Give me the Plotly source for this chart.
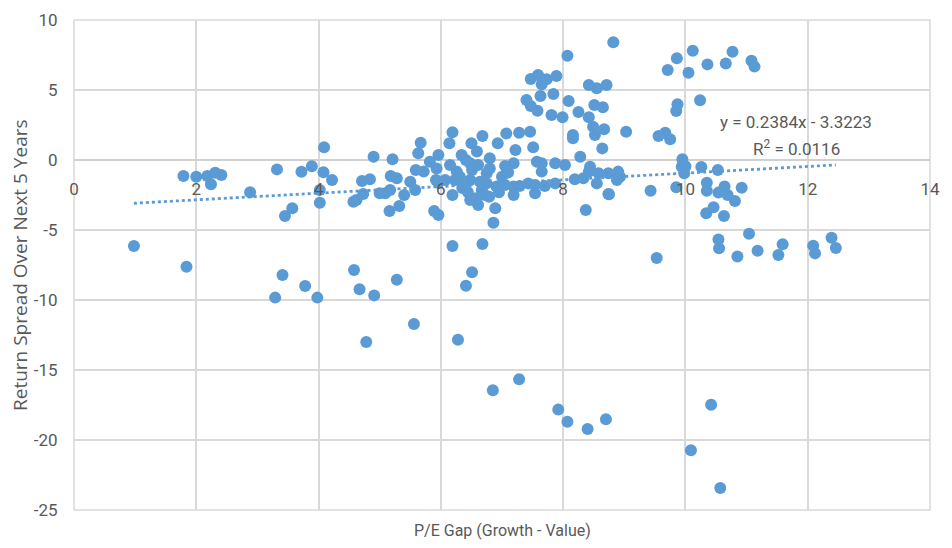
import plotly.graph_objects as go

# P/E gap (growth - value) and return spread over next 5 years
pe_gap = [
    0.98, 1.79, 1.84, 2.00, 2.18, 2.24, 2.31, 2.41, 2.88, 3.32,
    3.45, 3.57, 3.72, 3.89, 4.08, 4.09, 4.22, 4.02, 4.02, 3.41,
    3.78, 3.29, 3.98, 4.58, 4.67, 4.91, 4.78, 5.28, 5.56, 6.19,
    6.68, 6.51, 6.41, 6.28, 6.85, 7.28, 7.92, 8.07, 8.40, 8.70,
    9.53, 10.09, 10.42, 10.57,
    10.54, 10.55, 11.04, 10.85, 11.18, 11.52, 11.59, 12.09, 12.12, 12.39, 12.46,
    8.82, 9.71, 9.86, 10.12, 10.05, 10.36, 10.66, 10.77, 11.08, 11.13,
    10.24, 9.87, 9.85, 9.56, 9.67, 9.75, 9.03, 8.65, 8.71, 8.67, 8.64,
    9.95, 9.94, 9.98, 10.26, 10.53, 9.85, 9.43, 8.75, 10.35, 10.35,
    10.64, 10.54, 10.69, 10.92, 10.81, 10.34, 10.46, 10.63, 8.90, 8.88,
    8.93, 10.00,
    8.07, 7.47, 7.59, 7.73, 7.89, 7.65, 7.63, 7.84, 7.40, 7.47,
    7.58, 7.81, 7.99, 8.09, 8.25, 8.42, 8.55, 8.51, 8.42, 8.49,
    8.52, 8.16, 8.16, 8.28, 8.03, 7.87, 7.65, 7.57, 7.65, 7.51,
    7.46, 7.28, 7.07, 6.68, 6.93, 7.22, 7.19, 7.05, 6.80, 6.80,
    8.44, 8.58, 8.74, 8.33, 8.55, 8.19, 7.87, 7.70, 7.54, 7.43,
    7.29, 7.19, 7.05, 6.91, 6.75, 7.19, 7.54, 6.79, 8.74, 8.37,
    6.89, 6.86, 8.42,
    4.90, 5.21, 4.71, 4.84, 4.57, 4.62, 4.73, 5.00, 5.09, 5.17,
    5.18, 5.28, 5.16, 5.32, 5.40, 5.50, 5.59, 5.63, 5.67, 5.58,
    5.72, 5.82, 5.96, 5.93, 5.92, 5.96, 5.89, 5.96, 6.14, 6.19,
    6.15, 6.07, 6.19, 6.34, 6.50, 6.59, 6.48, 6.61, 6.31, 6.48,
    6.64, 6.26, 6.40, 6.48, 6.61, 6.57, 6.67, 6.75,
    6.35, 6.51, 6.41, 6.23, 6.72, 6.44, 7.00, 7.10, 6.95,
]
return_spread = [
    -6.14, -1.14, -7.62, -1.19, -1.14, -1.74, -0.91, -1.07, -2.31, -0.67,
    -4.00, -3.45, -0.84, -0.45, -0.88, 0.91, -1.43, -2.14, -3.05, -8.21,
    -9.00, -9.83, -9.83, -7.86, -9.24, -9.67, -13.00, -8.55, -11.71, -6.14,
    -6.00, -8.02, -8.98, -12.84, -16.45, -15.66, -17.83, -18.69, -19.21, -18.52,
    -7.00, -20.74, -17.48, -23.43,
    -5.67, -6.31, -5.26, -6.90, -6.48, -6.79, -6.02, -6.12, -6.67, -5.55, -6.29,
    8.41, 6.43, 7.26, 7.81, 6.24, 6.83, 6.90, 7.74, 7.09, 6.67,
    4.26, 3.98, 3.50, 1.71, 1.95, 1.48, 2.02, 3.76, 5.36, 2.19, 0.83,
    0.05, -0.48, -0.95, -0.50, -0.71, -1.95, -2.19, -2.45, -1.62, -2.19,
    -1.90, -2.33, -2.50, -1.98, -2.93, -3.81, -3.38, -4.00, -0.83, -1.43,
    -1.19, -0.45,
    7.45, 5.79, 6.07, 5.76, 6.00, 5.41, 4.57, 4.71, 4.29, 3.86,
    3.52, 3.21, 3.05, 4.21, 3.43, 5.36, 5.12, 3.93, 3.05, 2.38,
    1.79, 1.79, 1.55, 0.24, -0.36, -0.24, -0.24, -0.12, -0.83, 0.91,
    2.02, 1.95, 1.90, 1.71, 1.19, 0.71, -0.24, -0.43, 0.12, -0.60,
    -0.48, -0.95, -0.95, -1.31, -1.67, -1.38, -1.67, -1.86, -1.79, -1.67,
    -1.86, -1.90, -1.79, -1.90, -1.67, -2.50, -2.38, -2.62, -2.43, -3.57,
    -3.45, -4.48, -0.83,
    0.24, 0.05, -1.50, -1.38, -2.98, -2.86, -2.43, -2.38, -2.38, -2.14,
    -1.14, -1.31, -3.64, -3.29, -2.50, -1.55, -0.71, 0.48, 1.24, -2.14,
    -0.83, -0.12, 0.36, -0.60, -1.43, -1.62, -3.64, -3.93, 1.19, 1.98,
    -0.36, -1.43, -2.50, 0.36, 1.19, 0.60, -0.24, -0.36, -1.19, -1.43,
    -1.55, -0.83, -1.90, -2.86, -3.21, -2.74, -2.14, -0.95,
    -2.00, -0.71, 0.00, -1.43, -2.50, -2.29, -1.20, -0.90, -2.30,
]

# Linear trendline as reported on the chart
slope = 0.2384
intercept = -3.3223
r_squared = 0.0116

x_ticks = [0, 2, 4, 6, 8, 10, 12, 14]
y_ticks = [10, 5, 0, -5, -10, -15, -20, -25]

BLUE = "#5B9BD5"
GRID = "#D9D9D9"
TXT = "#595959"
NARROW = "Roboto, sans-serif"

x_lo, x_hi = min(pe_gap), max(pe_gap)
trend_x = [x_lo, x_hi]
trend_y = [slope * v + intercept for v in trend_x]

fig = go.Figure()
fig.add_trace(go.Scatter(
    x=pe_gap, y=return_spread, mode="markers",
    marker=dict(size=12, color=BLUE, line=dict(width=0)),
    showlegend=False,
))
fig.add_trace(go.Scatter(
    x=trend_x, y=trend_y, mode="lines",
    line=dict(color=BLUE, width=2.8, dash="dot"),
    showlegend=False,
))

# page has an 8px body margin, so the figure is shrunk and shifted accordingly
W, H = 944, 540
ml, mr, mt, mb = 66, 22, 12, 38
# helpers: screen pixel -> paper fraction (plot area spans 74..930 x, 20..510 y on screen)
def px(sx):
    return (sx - 74) / 856
def py(sy):
    return (510 - sy) / 490

fig.update_layout(
    width=W, height=H,
    margin=dict(l=ml, r=mr, t=mt, b=mb, autoexpand=False),
    paper_bgcolor="white", plot_bgcolor="white",
    font=dict(family=NARROW, size=17, color=TXT),
    xaxis=dict(
        range=[0, 14], tickvals=x_ticks, ticktext=[str(v) for v in x_ticks],
        showgrid=True, gridcolor=GRID, gridwidth=1.5,
        zeroline=False, showline=False, automargin=False,
        anchor="free", position=py(160),
        ticks="outside", ticklen=14, tickcolor="rgba(0,0,0,0)",
        tickfont=dict(family=NARROW, size=17, color=TXT),
    ),
    yaxis=dict(
        range=[-25, 10], tickvals=y_ticks, ticktext=[str(v) for v in y_ticks],
        showgrid=True, gridcolor=GRID, gridwidth=1.5,
        zeroline=True, zerolinecolor="#D0D0D0", zerolinewidth=1.5,
        showline=False, automargin=False,
        ticks="outside", ticklen=12, tickcolor="rgba(0,0,0,0)",
        tickfont=dict(family=NARROW, size=17, color=TXT),
    ),
    shapes=[dict(type="rect", xref="paper", yref="paper", x0=0, x1=1, y0=0, y1=1,
                 line=dict(color=GRID, width=1.5), layer="below")],
    annotations=[
        dict(text="P/E Gap (Growth - Value)", xref="paper", yref="paper",
             x=px(502), y=py(530),
             xanchor="center", yanchor="middle", showarrow=False,
             font=dict(family=NARROW, size=16, color=TXT)),
        dict(text="Return Spread Over Next 5 Years", xref="paper", yref="paper",
             x=px(20), y=0.5, textangle=-90,
             xanchor="center", yanchor="middle", showarrow=False,
             font=dict(family="Open Sans, sans-serif", size=19, color=TXT)),
        dict(text=f"y = {slope}x - {abs(intercept)}", xref="paper", yref="paper",
             x=px(796), y=py(122),
             xanchor="center", yanchor="middle", showarrow=False,
             font=dict(family=NARROW, size=17, color=TXT)),
        dict(text=f"R<sup>2</sup> = {r_squared}", xref="paper", yref="paper",
             x=px(796), y=py(148),
             xanchor="center", yanchor="middle", showarrow=False,
             font=dict(family=NARROW, size=17, color=TXT)),
    ],
)

fig.write_html("out.html")
